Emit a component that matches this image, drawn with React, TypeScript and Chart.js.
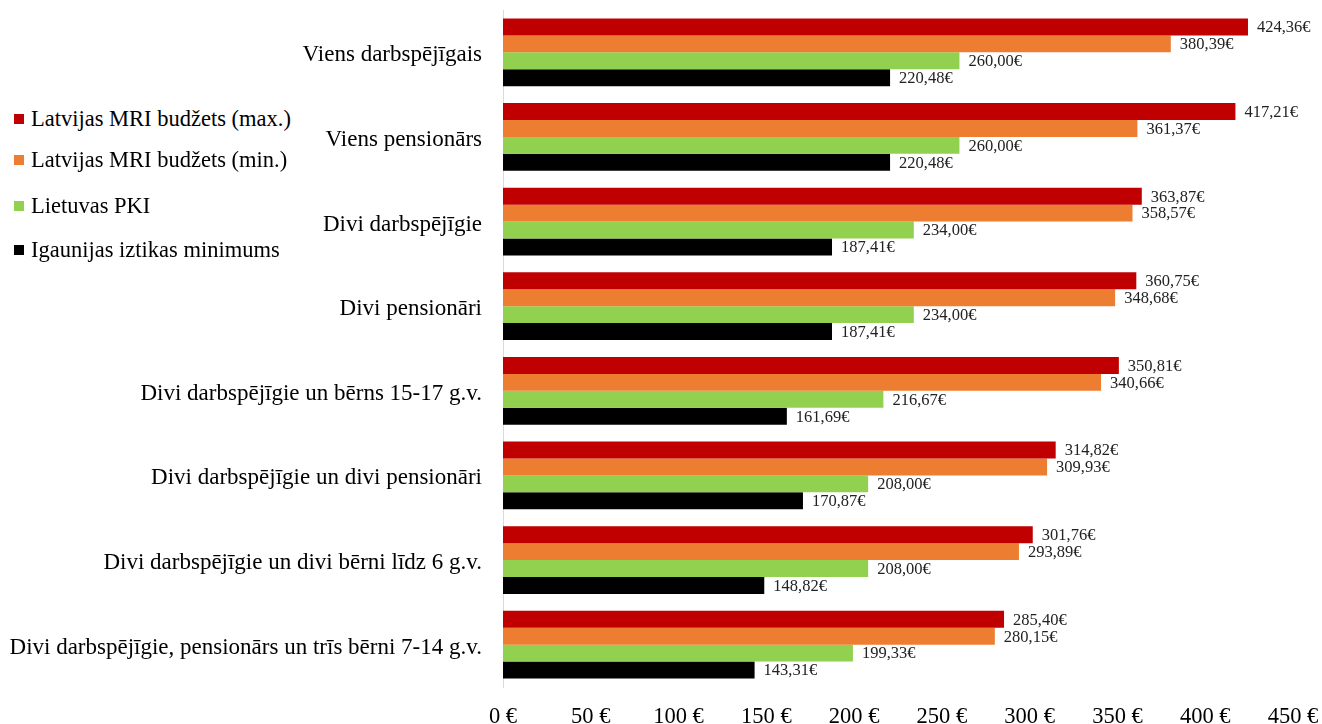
import React, { useEffect, useRef } from "react";
import { Chart, registerables } from "chart.js";

Chart.register(...registerables);

const categories = [
  "Viens darbspējīgais",
  "Viens pensionārs",
  "Divi darbspējīgie",
  "Divi pensionāri",
  "Divi darbspējīgie un bērns 15-17 g.v.",
  "Divi darbspējīgie un divi pensionāri",
  "Divi darbspējīgie un divi bērni līdz 6 g.v.",
  "Divi darbspējīgie, pensionārs un trīs bērni 7-14 g.v.",
];

const seriesNames = [
  "Latvijas MRI budžets (max.)",
  "Latvijas MRI budžets (min.)",
  "Lietuvas PKI",
  "Igaunijas iztikas minimums",
];

const latMax = [424.36, 417.21, 363.87, 360.75, 350.81, 314.82, 301.76, 285.4];
const latMin = [380.39, 361.37, 358.57, 348.68, 340.66, 309.93, 293.89, 280.15];
const litPki = [260.0, 260.0, 234.0, 234.0, 216.67, 208.0, 208.0, 199.33];
const estMin = [220.48, 220.48, 187.41, 187.41, 161.69, 170.87, 148.82, 143.31];

const colors = ["#C00000", "#ED7D31", "#92D050", "#000000"];
const FONT = "'Liberation Serif', 'Times New Roman', serif";

const valueLabels = {
  id: "valueLabels",
  afterDatasetsDraw(chart: any) {
    const ctx = chart.ctx;
    ctx.save();
    ctx.font = `16.5px ${FONT}`;
    ctx.fillStyle = "#222";
    ctx.textAlign = "left";
    ctx.textBaseline = "middle";
    chart.data.datasets.forEach((ds: any, i: number) => {
      const meta = chart.getDatasetMeta(i);
      meta.data.forEach((bar: any, j: number) => {
        const v = ds.data[j] as number;
        ctx.fillText(v.toFixed(2).replace(".", ",") + "€", bar.x + 9, bar.y + 1);
      });
    });
    ctx.restore();
  },
};

export default function App() {
  const ref = useRef<HTMLCanvasElement>(null);
  useEffect(() => {
    const data = [latMax, latMin, litPki, estMin];
    const chart = new Chart(ref.current!, {
      type: "bar",
      data: {
        labels: categories,
        datasets: data.map((d, i) => ({
          label: seriesNames[i],
          data: d,
          backgroundColor: colors[i],
          borderWidth: 0,
          categoryPercentage: 0.8,
          barPercentage: 1,
        })),
      },
      options: {
        indexAxis: "y",
        animation: false,
        responsive: false,
        maintainAspectRatio: false,
        layout: { padding: { top: 10, right: 29, left: 0, bottom: 0 } },
        plugins: { legend: { display: false }, tooltip: { enabled: false } },
        scales: {
          x: {
            min: 0,
            max: 450,
            ticks: {
              stepSize: 50,
              padding: 19,
              color: "#000",
              font: { family: FONT, size: 22.5, lineHeight: 1 },
              callback: (v: any) => `${v} €`,
              maxRotation: 0,
            },
            grid: { display: false, drawTicks: false },
            border: { display: false },
            afterFit: (scale: any) => {
              scale.paddingLeft = 0;
              scale.paddingRight = 0;
              scale.height = 37;
            },
          },
          y: {
            ticks: {
              color: "#000",
              padding: 21,
              labelOffset: 3,
              font: { family: FONT, size: 23 },
            },
            grid: { display: false, drawTicks: false },
            border: { display: true, color: "#D9D9D9", width: 1 },
            afterFit: (scale: any) => {
              scale.width = 503;
              scale.paddingTop = 0;
              scale.paddingBottom = 0;
            },
          },
        },
      },
      plugins: [valueLabels],
    });
    return () => chart.destroy();
  }, []);

  const legendY = [119, 160, 206, 250];
  return (
    <div style={{ position: "fixed", left: 0, top: 0, width: 1322, height: 724, background: "#fff" }}>
      <canvas ref={ref} width={1322} height={724} style={{ display: "block" }} />
      {seriesNames.map((n, i) => (
        <div
          key={n}
          style={{
            position: "absolute",
            left: 14,
            top: legendY[i] - 14,
            height: 28,
            display: "flex",
            alignItems: "center",
            fontFamily: FONT,
            fontSize: 22.5,
            color: "#000",
            whiteSpace: "nowrap",
            background: "#fff",
            paddingRight: 2,
          }}
        >
          <span style={{ display: "inline-block", width: 10, height: 10, background: colors[i], marginRight: 7 }} />
          {n}
        </div>
      ))}
    </div>
  );
}
